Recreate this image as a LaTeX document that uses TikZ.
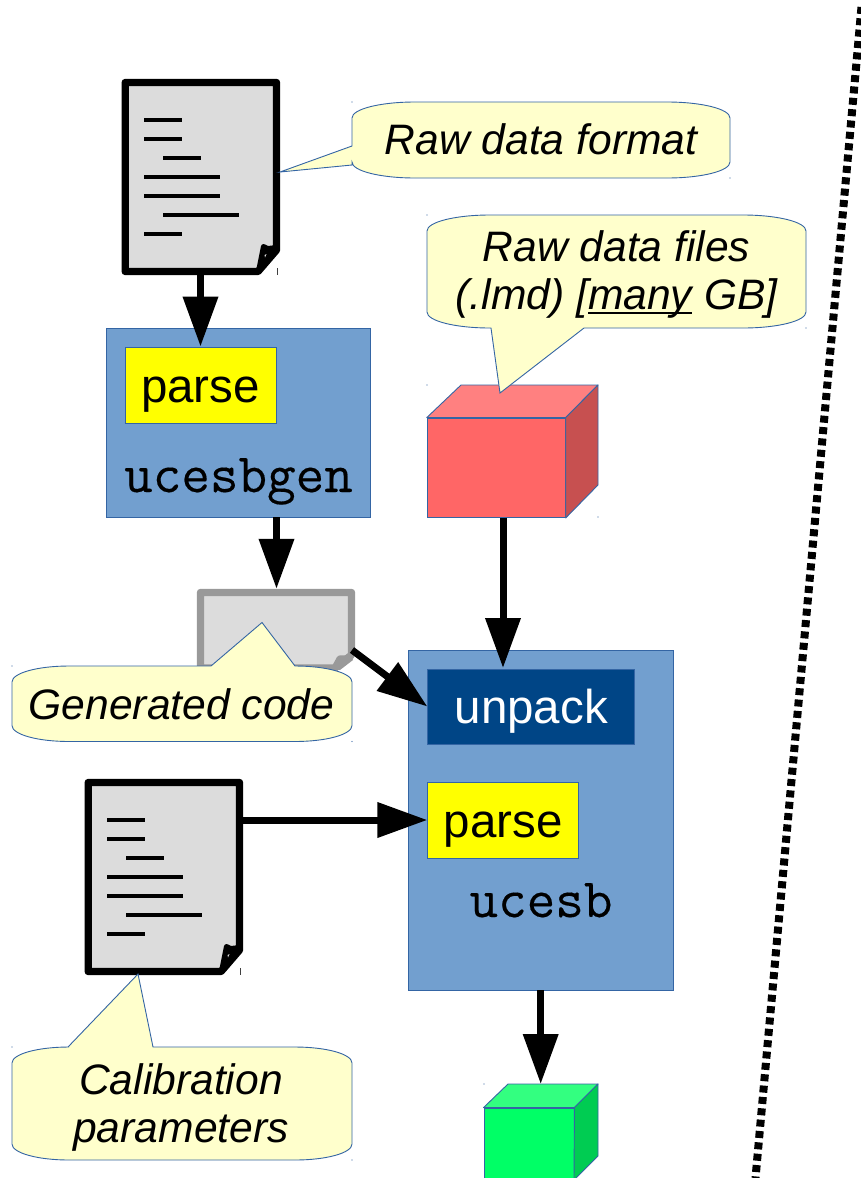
\documentclass[tikz,border=0pt]{standalone}
\usepackage{fontspec}
\setmainfont{Liberation Sans}
\newfontfamily\slabmono[FakeBold=0.25]{Latin Modern Mono}
\usetikzlibrary{arrows.meta}
\definecolor{bubblefill}{HTML}{FFFFCC}
\definecolor{edgeblue}{HTML}{3465A4}
\definecolor{boxblue}{HTML}{729FCF}
\definecolor{darkblue}{HTML}{004586}
\definecolor{docfill}{HTML}{DCDCDC}
\definecolor{docgray}{HTML}{999999}
\definecolor{parseyellow}{HTML}{FFFF00}
\definecolor{redfront}{HTML}{FF6666}
\definecolor{redtop}{HTML}{FF8080}
\definecolor{redside}{HTML}{C75050}
\definecolor{greenfront}{HTML}{00FF66}
\definecolor{greentop}{HTML}{33FF80}
\definecolor{greenside}{HTML}{00CC52}
\tikzset{
  x=1pt,y=-1pt,
  thin edge/.style={draw=edgeblue,line width=0.9pt},
  bubble/.style={thin edge,fill=bubblefill,line join=miter},
  bubbletext/.style={font=\fontsize{42.6}{48}\selectfont\itshape,align=center,inner sep=0pt,text=black},
  blockbox/.style={thin edge,fill=boxblue,inner sep=0pt},
  parsebox/.style={thin edge,fill=parseyellow,inner sep=0pt,minimum width=151pt,minimum height=76pt,font=\fontsize{47.5}{50}\selectfont,text height=35pt,text depth=0pt},
  monotext/.style={font=\fontsize{55.5}{58}\selectfont\slabmono,inner sep=0pt,text height=24pt,text depth=0pt},
  flow/.style={draw=black,line width=7pt,-{Triangle[width=34pt,length=50pt]},shorten >=0pt},
  docline/.style={line width=4pt,draw=black},
  docedge/.style={line width=7.4pt,line join=round},
  partition/.style={draw=black,line width=8pt,dash pattern=on 7pt off 4.4pt},
  speck/.style={fill=edgeblue,draw=none},
}
\newcommand\thickul[1]{\setbox0=\hbox{#1}\rlap{\rule[-5pt]{\wd0}{2.4pt}}\box0 }
% x0 y0 x1 y1 rx ; top / bottom / left pointer path pieces
\newcommand\bubbleshape[8]{%
  \path[bubble] (#1,{#2+16}) .. controls (#1,{#2+7}) and ({#1+0.45*#5},#2) .. ({#1+#5},#2)
    #6 -- ({#3-#5},#2) .. controls ({#3-0.45*#5},#2) and (#3,{#2+7}) .. (#3,{#2+16})
    -- (#3,{#4-16}) .. controls (#3,{#4-7}) and ({#3-0.45*#5},#4) .. ({#3-#5},#4)
    #7 -- ({#1+#5},#4) .. controls ({#1+0.45*#5},#4) and (#1,{#4-7}) .. (#1,{#4-16})
    #8 -- cycle;
  \fill[speck] (#1,#2) circle (0.7pt) (#3,#4) circle (0.7pt);
}
\newcommand\docicon[3]{%
  \begin{scope}[shift={(#2,#3)}]
    \node[minimum width=158pt,minimum height=196pt,inner sep=0pt] (#1) at (201,177) {};
    \draw[docedge,draw=black,fill=docfill] (125.2,82.5) -- (276.5,82.5) -- (276.5,250) -- (258,271.5) -- (125.2,271.5) -- cycle;
    \fill[black] (256,271) -- (261,246) .. controls (262,243) and (265,244) .. (268,246) -- (276,245) -- (276.5,250) -- (258,271.5) -- cycle;
    \fill[docfill] (264.5,255) -- (266.5,254) -- (265,257.5) -- cycle;
    \draw[docline] (144,120) -- (182,120) (144,139) -- (182,139) (163,158) -- (201,158)
      (144,177) -- (220,177) (144,196) -- (220,196) (163,215) -- (239,215) (144,234) -- (182,234);
    \fill[black!75] (276.5,268) rectangle (277.8,275);
  \end{scope}%
}
\begin{document}
\begin{tikzpicture}
\clip (0,0) rectangle (861,1178);
\fill[white] (0,0) rectangle (861,1178);

% partition
\coordinate (parttop) at (861.5,7);
\coordinate (partbot) at (755.5,1178);
\draw[partition] (parttop) -- (partbot);

% blocks
\node[blockbox,minimum width=264pt,minimum height=189pt] (gen) at (238.7,422.5) {};
\node[blockbox,minimum width=265.5pt,minimum height=340pt] (ucesb) at (540.7,820) {};
\node[parsebox] (parseA) at (200.5,385) {parse};
\node[parsebox] (parseB) at (503.3,820) {parse};
\node[thin edge,fill=darkblue,text=white,inner sep=0pt,minimum width=207pt,minimum height=75pt,font=\fontsize{47.5}{50}\selectfont,text height=34pt,text depth=0pt] (unpack) at (531.3,706.5) {unpack};
\node[monotext] (genlabel) at (238.5,480) {ucesbgen};
\node[monotext] (ucesblabel) at (541,905) {ucesb};

% documents
\docicon{docA}{0}{0}
\docicon{docB}{-37}{700}
\node[minimum width=159pt,minimum height=82pt,inner sep=0pt] (docC) at (276.5,630) {};
\draw[docedge,draw=docgray,fill=docfill] (200.5,668) -- (200.5,592.5) -- (351.5,592.5) -- (351.5,655) -- (335,668) -- cycle;
\fill[docgray] (331,668) -- (337,657) .. controls (339,654) and (343,656) .. (351,655) -- (353,660) -- (340,670) -- cycle;

% cubes
\node[thin edge,minimum width=138pt,minimum height=99.5pt,inner sep=0pt,fill=redfront] (rawcube) at (496.25,467.75) {};
\path[thin edge,fill=redtop,line join=round] (rawcube.north west) -- (461,385) -- (598,385) -- (rawcube.north east) -- cycle;
\path[thin edge,fill=redside,line join=round] (rawcube.north east) -- (598,385) -- (598,485) -- (rawcube.south east) -- cycle;
\fill[speck] (427,385) circle (0.7pt) (598,517) circle (0.7pt);

\node[thin edge,minimum width=90pt,minimum height=90pt,inner sep=0pt,fill=greenfront] (outcube) at (529,1153) {};
\path[thin edge,fill=greentop,line join=round] (outcube.north west) -- (508,1084) -- (598,1084) -- (outcube.north east) -- cycle;
\path[thin edge,fill=greenside,line join=round] (outcube.north east) -- (598,1084) -- (598,1156) -- (574,1180) -- cycle;
\fill[speck] (484,1084) circle (0.7pt);

% connectors
\coordinate (rawout) at (503,517.5);
\coordinate (unpackin) at (503,668);
\coordinate (codeout) at (352,650);
\coordinate (outin) at (540.7,1084);
\draw[flow] (parseA.north |- docA.south) -- (parseA.north);
\draw[flow] (gen.south -| docC.north) -- (docC.north);
\draw[flow] (rawout) -- (unpackin);
\draw[flow] (codeout) -- (unpack.west);
\draw[flow] (docB.east |- parseB.west) -- (parseB.west);
\draw[flow] (ucesb.south) -- (outin);

% bubbles
\bubbleshape{352}{102}{730}{178}{63}{}{}{-- (352,165) -- (280,172) -- (352,146)}
\node[bubbletext] (rawfmt) at (541,139.5) {Raw data format};
\bubbleshape{427}{215}{806}{328}{63}{}{-- (584,328) -- (500,393) -- (491,328)}{}
\node[bubbletext] (rawfiles) at (616.5,274) {Raw data files\\(.lmd) [\thickul{many} GB]};
\bubbleshape{12}{666}{352}{741.5}{57}{-- (211,666) -- (262,622.5) -- (295,666)}{}{}
\node[bubbletext] (gencode) at (181.5,704) {Generated code};
\bubbleshape{12}{1047}{352}{1160}{57}{-- (68,1047) -- (138,974) -- (153,1047)}{}{}
\node[bubbletext] (calib) at (181,1107.5) {Calibration\\parameters};
\end{tikzpicture}
\end{document}
